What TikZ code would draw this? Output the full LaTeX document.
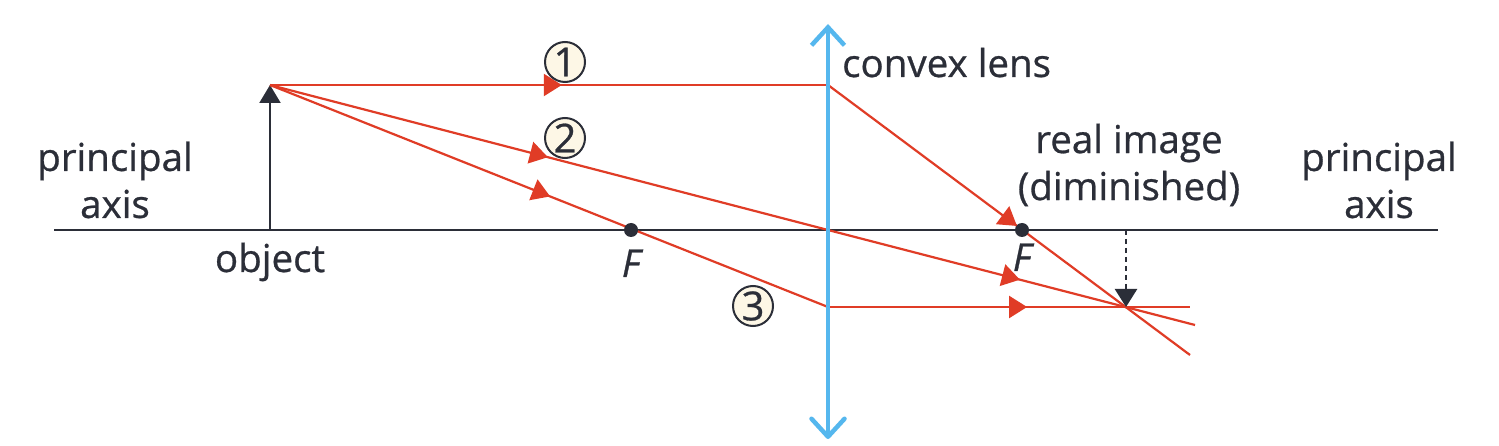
\documentclass[tikz,border=0pt]{standalone}
\usepackage{fontspec}
\setmainfont{Open Sans}[RawFeature={embolden=0.7}]
\usetikzlibrary{arrows.meta,decorations.markings}
\definecolor{ink}{HTML}{2B2E38}
\definecolor{ray}{HTML}{E03C26}
\definecolor{lens}{HTML}{55B7EE}
\definecolor{cream}{HTML}{FDF7E6}
\tikzset{
  axisline/.style={draw=ink,line width=2pt},
  rayline/.style={draw=ray,line width=2.2pt},
  raytip/.style={postaction={decorate,decoration={markings,
     mark=at position #1 with {\arrow{Triangle[length=18pt,width=22pt,color=ray]}}}}},
  lensline/.style={draw=lens,line width=4.5pt,{Straight Barb[length=18pt,width=33pt,line width=4.5pt,round=false]}-{Straight Barb[length=18pt,width=33pt,line width=4.5pt]}},
  label/.style={font=\fontsize{38.5}{47}\selectfont,text=ink,align=center,inner sep=0pt},
  focus/.style={font=\fontsize{38.5}{44}\selectfont\itshape,text=ink,inner sep=0pt},
  num/.style={circle,draw=ink,line width=2pt,fill=cream,minimum size=40pt,inner sep=0pt,text=ink,font=\fontsize{40}{44}\selectfont},
  dot/.style={circle,fill=ink,minimum size=14pt,inner sep=0pt},
}
\begin{document}
\begin{tikzpicture}[x=1pt,y=-1pt]
\useasboundingbox[fill=white] (0,0) rectangle (1499,446);
% coordinates
\coordinate (axisL) at (54,230);
\coordinate (axisR) at (1438,230);
\coordinate (objB) at (270,230);
\coordinate (objT) at (270,85);
\coordinate (lensT) at (828,24);
\coordinate (lensB) at (828,439);
\coordinate (h1) at (828,85);
\coordinate (h2) at (828,230);
\coordinate (h3) at (828,307);
\coordinate (e1) at (1190,355);
\coordinate (e2) at (1195,325);
\coordinate (e3) at (1190,307);
\coordinate (imgT) at (1126,230);
\coordinate (imgB) at (1126,307);
% axis and object
\draw[axisline] (axisL) -- (axisR);
\draw[draw=ink,line width=2pt,-{Triangle[length=18pt,width=21pt]},fill=ink] (objB) -- (objT);
% rays
\path[rayline,raytip=0.523] (objT) -- (h1);
\path[rayline,raytip=0.498] (objT) -- (h2);
\path[rayline,raytip=0.502] (objT) -- (h3);
\path[rayline,raytip=0.522] (h1) -- (e1);
\path[rayline,raytip=0.523] (h2) -- (e2);
\path[rayline,raytip=0.55] (h3) -- (e3);
% image
\draw[draw=ink,line width=2.5pt,dashed,dash pattern=on 5pt off 4pt,-{Triangle[length=18pt,width=22pt,color=ink,fill=ink]}] (imgT) -- (imgB);
% lens
\draw[lensline] (lensB) -- (lensT);
% dots
\node[dot] (F1) at (631,230) {};
\node[dot] (F2) at (1022,230) {};
% labels
\node[label] (pl) at (115,180) {principal\\axis};
\node[label] (pr) at (1379,180) {principal\\axis};
\node[label,anchor=base] (ob) at (270,272) {object};
\node[label,anchor=base west] (cl) at (842,77) {convex lens};
\node[label] (ri) at (1129,165) {real image\\(diminished)};
\node[focus,anchor=base] (f1) at (631,277) {F};
\node[focus,anchor=base] (f2) at (1022,271) {F};
\node[num] (n1) at (565,62) {1};
\node[num] (n2) at (565,138) {2};
\node[num] (n3) at (753,306) {3};
\end{tikzpicture}
\end{document}
